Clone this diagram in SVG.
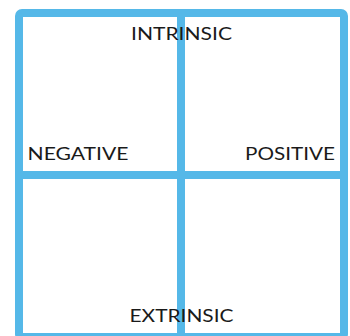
<svg xmlns="http://www.w3.org/2000/svg" width="350" height="336" viewBox="0 0 350 336">
  <style>
    .frame { fill: none; stroke: #55B8E8; stroke-width: 8; }
    .bar { fill: #55B8E8; }
    .lbl { font-family: Lato, "Open Sans", "Liberation Sans", sans-serif; font-size: 17.5px; fill: #1a1a1a; }
  </style>
  <rect width="350" height="336" fill="#ffffff"/>
  <g id="grid">
    <rect class="frame" x="19" y="13" width="325" height="324" rx="3"/>
    <rect class="bar" x="177" y="9" width="8" height="332"/>
    <rect class="bar" x="15" y="171" width="333" height="8"/>
  </g>
  <g id="labels">
    <text class="lbl" x="131" y="39.5" textLength="101" lengthAdjust="spacingAndGlyphs">INTRINSIC</text>
    <text class="lbl" x="27.5" y="160" textLength="101" lengthAdjust="spacingAndGlyphs">NEGATIVE</text>
    <text class="lbl" x="245" y="160" textLength="90" lengthAdjust="spacingAndGlyphs">POSITIVE</text>
    <text class="lbl" x="129.5" y="321.5" textLength="104" lengthAdjust="spacingAndGlyphs">EXTRINSIC</text>
  </g>
</svg>
